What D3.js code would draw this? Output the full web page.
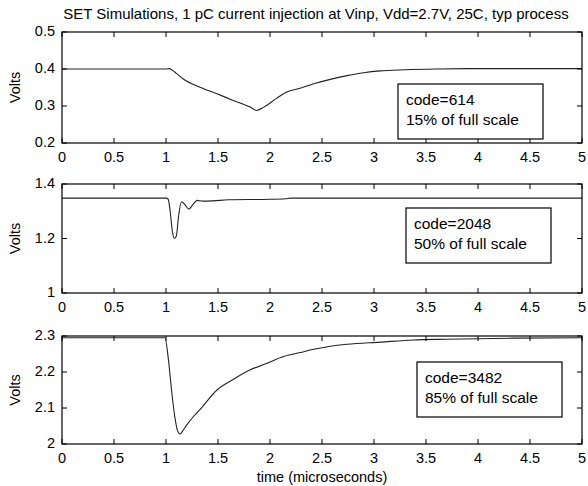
<!DOCTYPE html>
<html>
<head>
<meta charset="utf-8">
<script src="https://cdn.jsdelivr.net/npm/d3@7"></script>
<style>
  body { margin: 0; background: #fff; }
  text { font-family: "Liberation Sans", Arial, sans-serif; fill: #000; }
</style>
</head>
<body>
<div id="chart"></div>
<script>
// x ticks shared by all three panels (microseconds)
var timeTicks = [0, 0.5, 1, 1.5, 2, 2.5, 3, 3.5, 4, 4.5, 5];

// panel 1 : code=614
var time1  = [0, 1.0, 1.03, 1.06, 1.1, 1.166, 1.327, 1.49, 1.647, 1.81, 1.87, 1.94, 2.06, 2.16, 2.29, 2.42, 2.58, 2.74, 2.9, 3.06, 3.3, 3.6, 4.0, 5.0];
var volts1 = [0.400, 0.400, 0.401, 0.397, 0.388, 0.373, 0.351, 0.333, 0.315, 0.297, 0.288, 0.297, 0.320, 0.338, 0.348, 0.360, 0.372, 0.382, 0.390, 0.395, 0.398, 0.400, 0.401, 0.401];
var yTicks1 = [0.2, 0.3, 0.4, 0.5];

// panel 2 : code=2048
var time2  = [0, 1.0, 1.02, 1.04, 1.06, 1.08, 1.10, 1.12, 1.15, 1.18, 1.22, 1.26, 1.30, 1.35, 1.45, 1.6, 2.0, 2.15, 2.2, 5.0];
var volts2 = [1.348, 1.348, 1.345, 1.30, 1.23, 1.20, 1.21, 1.28, 1.335, 1.325, 1.308, 1.325, 1.340, 1.337, 1.338, 1.342, 1.344, 1.346, 1.348, 1.348];
var yTicks2 = [1, 1.2, 1.4];

// panel 3 : code=3482
var time3  = [0, 0.99, 1.022, 1.055, 1.087, 1.11, 1.135, 1.16, 1.2, 1.26, 1.33, 1.49, 1.65, 1.81, 1.97, 2.13, 2.29, 2.42, 2.74, 3.06, 3.38, 3.7, 4.34, 5.0];
var volts3 = [2.295, 2.295, 2.238, 2.145, 2.071, 2.038, 2.028, 2.036, 2.053, 2.075, 2.097, 2.150, 2.180, 2.206, 2.224, 2.243, 2.254, 2.263, 2.277, 2.283, 2.289, 2.291, 2.294, 2.295];
var yTicks3 = [2, 2.1, 2.2, 2.3];

var notes = [
  ["code=614", "15% of full scale"],
  ["code=2048", "50% of full scale"],
  ["code=3482", "85% of full scale"]
];

var width = 588, height = 486;
var left = 62, right = 582;

var svg = d3.select("#chart").append("svg")
  .attr("width", width)
  .attr("height", height);

var x = d3.scaleLinear().domain([0, 5]).range([left, right]);

var panels = [
  { top: 32,  bottom: 143, domain: [0.2, 0.5], ticks: yTicks1, t: time1, v: volts1, note: notes[0], box: [336, 52] },
  { top: 184, bottom: 293, domain: [1, 1.4],   ticks: yTicks2, t: time2, v: volts2, note: notes[1], box: [344, 24] },
  { top: 336, bottom: 444, domain: [2, 2.3],   ticks: yTicks3, t: time3, v: volts3, note: notes[2], box: [355, 26] }
];

function drawPanel(p){
  var y = d3.scaleLinear().domain(p.domain).range([p.bottom, p.top]);
  var g = svg.append("g");
  var tk = 5;

  // data line
  var line = d3.line()
    .x(function(d, i){ return x(p.t[i]); })
    .y(function(d){ return y(d); })
    .curve(d3.curveMonotoneX);
  g.append("path")
    .datum(p.v)
    .attr("d", line)
    .attr("fill", "none")
    .attr("stroke", "#222")
    .attr("stroke-width", 1.1);

  // frame
  g.append("rect")
    .attr("x", left).attr("y", p.top)
    .attr("width", right - left).attr("height", p.bottom - p.top)
    .attr("fill", "none").attr("stroke", "#000").attr("stroke-width", 1.2);

  // inward ticks: bottom/top
  timeTicks.forEach(function(t){
    g.append("line").attr("x1", x(t)).attr("x2", x(t))
      .attr("y1", p.bottom).attr("y2", p.bottom - tk).attr("stroke", "#000");
    g.append("line").attr("x1", x(t)).attr("x2", x(t))
      .attr("y1", p.top).attr("y2", p.top + tk).attr("stroke", "#000");
    g.append("text").attr("x", x(t)).attr("y", p.bottom + 19)
      .attr("text-anchor", "middle").attr("font-size", 14.5)
      .text(t);
  });

  // inward ticks: left/right
  p.ticks.forEach(function(v){
    g.append("line").attr("x1", left).attr("x2", left + tk)
      .attr("y1", y(v)).attr("y2", y(v)).attr("stroke", "#000");
    g.append("line").attr("x1", right).attr("x2", right - tk)
      .attr("y1", y(v)).attr("y2", y(v)).attr("stroke", "#000");
    g.append("text").attr("x", left - 7).attr("y", y(v) + 4)
      .attr("text-anchor", "end").attr("font-size", 14.5)
      .text(v);
  });

  // y label
  var cy = (p.top + p.bottom) / 2;
  g.append("text")
    .attr("transform", "translate(20," + cy + ") rotate(-90)")
    .attr("text-anchor", "middle").attr("font-size", 14.5)
    .text("Volts");

  // annotation box
  var bx = left + p.box[0], by = p.top + p.box[1];
  g.append("rect").attr("x", bx).attr("y", by)
    .attr("width", 145).attr("height", 55)
    .attr("fill", "#fff").attr("stroke", "#000").attr("stroke-width", 1.2);
  g.append("text").attr("x", bx + 8).attr("y", by + 21)
    .attr("font-size", 15.5).text(p.note[0]);
  g.append("text").attr("x", bx + 8).attr("y", by + 41)
    .attr("font-size", 15.5).text(p.note[1]);
}

panels.forEach(drawPanel);

svg.append("text")
  .attr("x", 316).attr("y", 19)
  .attr("text-anchor", "middle").attr("font-size", 15)
  .text("SET Simulations, 1 pC current injection at Vinp, Vdd=2.7V, 25C, typ process");

svg.append("text")
  .attr("x", (left + right) / 2).attr("y", 482)
  .attr("text-anchor", "middle").attr("font-size", 14.5)
  .text("time (microseconds)");
</script>
</body>
</html>
